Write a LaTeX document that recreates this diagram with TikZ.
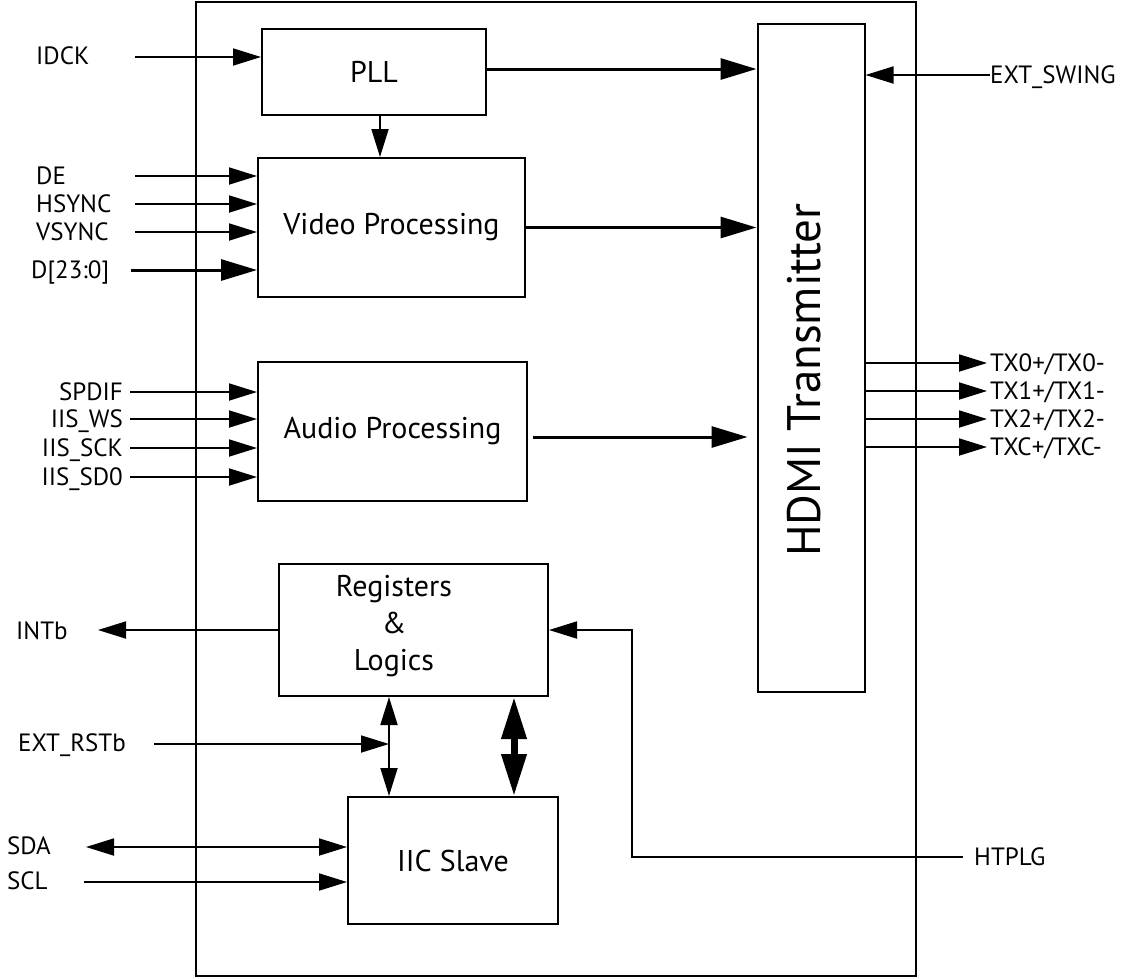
\documentclass[tikz,border=0pt]{standalone}
\usepackage{fontspec}
\setmainfont{PT Sans}
\usetikzlibrary{arrows.meta, calc}
\newcommand\pinfont{\fontsize{25}{30}\selectfont}
\newcommand\blkfont{\fontsize{30}{37}\selectfont}
\newcommand\hdmifont{\fontsize{47}{56}\selectfont}

\begin{document}
\begin{tikzpicture}[x=1pt, y=-1pt,
      blk/.style={draw, line width=2pt, inner sep=0pt, font=\blkfont},
      pin/.style={inner sep=0pt, font=\pinfont, text height=17.5pt, text depth=0pt},
      sig/.style={line width=1.8pt, -{Triangle[length=28pt, width=17pt]}},
      dsig/.style={line width=1.8pt, {Triangle[length=28pt, width=17pt]}-{Triangle[length=28pt, width=17pt]}},
      bus/.style={line width=3pt, -{Triangle[length=36pt, width=21pt]}},
      fat/.style={line width=7pt, {Triangle[length=42pt, width=24pt]}-{Triangle[length=42pt, width=24pt]}}
    ]
    \useasboundingbox[fill=white] (0,0) rectangle (1127,978);
    \draw[line width=2pt] (196,2) rectangle (916,976);

    \node[blk, minimum width=224pt, minimum height=86pt] (pll) at (374,72) {PLL};
    \node[blk, minimum width=267pt, minimum height=139pt] (video) at (391.5,227.5) {Video Processing};
    \node[blk, minimum width=269pt, minimum height=139pt] (audio) at (392.5,431.5) {Audio Processing};
    \node[blk, minimum width=269pt, minimum height=132pt] (reg) at (413.5,630) {};
    \node[font=\blkfont, align=center, inner sep=0pt] (regtxt) at (394,626) {Registers\\\&\\Logics};
    \node[blk, minimum width=210pt, minimum height=127pt] (iic) at (453,860.5) {IIC Slave};
    \node[blk, minimum width=107pt, minimum height=668pt] (hdmi) at (811,358) {};
    \node[font=\hdmifont, rotate=90, inner sep=0pt, text height=33pt, text depth=0pt] (hdmitxt) at (804,380) {HDMI Transmitter};

    \node[pin, anchor=west] (idck) at (36,56) {IDCK};
    \coordinate (idck-in) at (135,57);
    \draw[sig] (idck-in) -- (idck-in -| pll.west);

    \foreach \nm/\y in {DE/176, HSYNC/204, VSYNC/232} {
      \node[pin, anchor=west] (\nm) at (36,\y) {\nm};
      \coordinate (\nm-in) at (135,\y);
      \draw[sig] (\nm-in) -- (\nm-in -| video.west);
    }
    \node[pin, anchor=west] (dbus) at (31,270) {D[23:0]};
    \coordinate (dbus-in) at (131,270);
    \draw[bus] (dbus-in) -- (dbus-in -| video.west);

    \foreach \id/\nm/\y in {spdif/SPDIF/392, ws/IIS\_WS/419, sck/IIS\_SCK/448, sd0/IIS\_SD0/477} {
      \node[pin, anchor=east] (\id) at (123,\y) {\nm};
      \coordinate (\id-in) at (130,\y);
      \draw[sig] (\id-in) -- (\id-in -| audio.west);
    }

    \coordinate (clk) at ($(pll.south)+(6pt,0)$);
    \draw[sig] (clk) -- (clk |- video.north);
    \coordinate (pllo) at ($(pll.east)+(0,3pt)$);
    \draw[bus] (pllo) -- (pllo -| hdmi.west);
    \draw[bus] (video.east) -- (video.east -| hdmi.west);
    \coordinate (audo) at ($(audio.east)+(5pt,-5.5pt)$);
    \draw[bus] (audo) -- ($(audo -| hdmi.west)+(-9pt,0)$);

    \node[pin, anchor=west] (swing) at (990,75) {EXT\_SWING};
    \draw[sig] (swing.west) -- (swing.west -| hdmi.east);
    \foreach \id/\nm/\y in {tx0/{TX0+/TX0-}/363, tx1/{TX1+/TX1-}/391, tx2/{TX2+/TX2-}/419, txc/{TXC+/TXC-}/447} {
      \node[pin, anchor=west] (\id) at (990,\y) {\nm};
      \draw[sig] (\id.west -| hdmi.east) -- ([xshift=-3pt]\id.west);
    }

    \node[pin, anchor=west] (intb) at (16,631) {INTb};
    \coordinate (intb-out) at (98,630);
    \draw[sig] (reg.west) -- (intb-out);
    \node[pin, anchor=west] (htplg) at (974,857) {HTPLG};
    \draw[sig] ([xshift=-11pt]htplg.west) -| ($(reg.east)+(83pt,0)$) -- (reg.east);

    \coordinate (ctl) at ($(reg.south)+(-24.5pt,0)$);
    \draw[dsig] (ctl) -- (ctl |- iic.north);
    \coordinate (dat) at ($(reg.south)+(100.5pt,0)$);
    \draw[fat] (dat) -- (dat |- iic.north);
    \node[pin, anchor=west] (rst) at (18,743) {EXT\_RSTb};
    \coordinate (rst-in) at (154,744);
    \draw[sig] (rst-in) -- (rst-in -| ctl);

    \node[pin, anchor=west] (sda) at (7,846) {SDA};
    \coordinate (sda-out) at (86,847);
    \draw[dsig] (sda-out) -- (sda-out -| iic.west);
    \node[pin, anchor=west] (scl) at (7,881) {SCL};
    \coordinate (scl-in) at (84,882);
    \draw[sig] (scl-in) -- (scl-in -| iic.west);
  \end{tikzpicture}
\end{document}
